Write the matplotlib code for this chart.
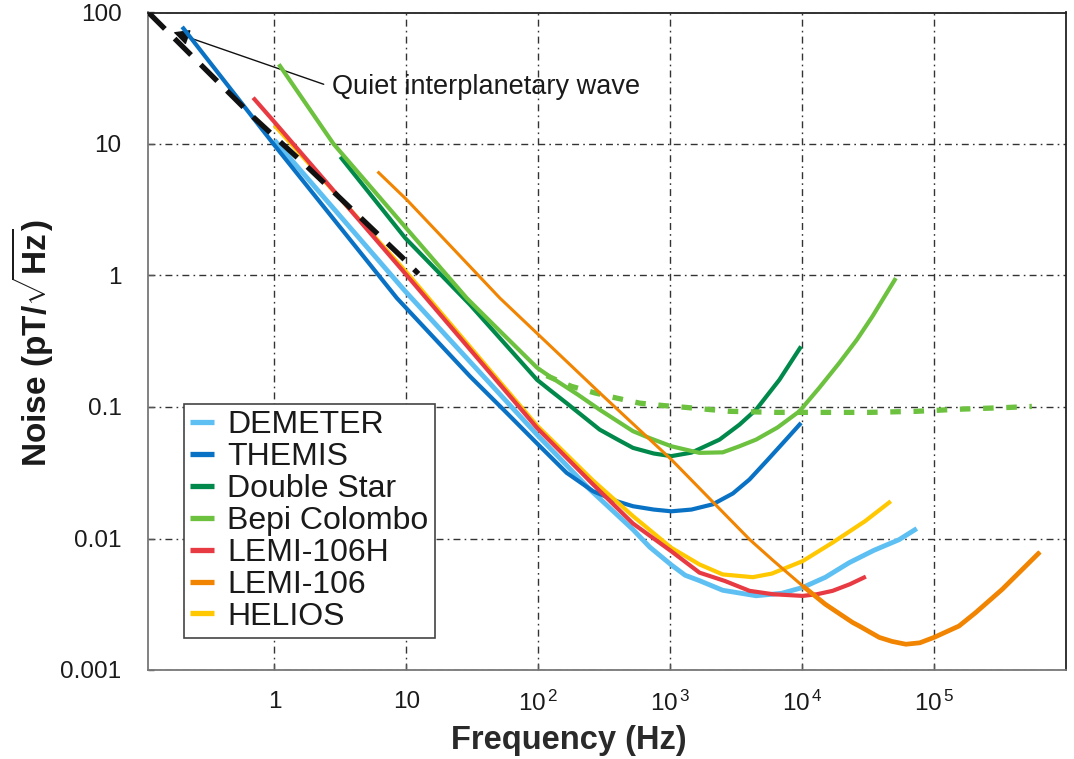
import matplotlib
matplotlib.use("Agg")
import matplotlib.pyplot as plt
from matplotlib.lines import Line2D

plt.rcParams['font.family'] = ['Liberation Sans', 'DejaVu Sans']
plt.rcParams['mathtext.fontset'] = 'custom'
plt.rcParams['mathtext.rm'] = 'Liberation Sans'
plt.rcParams['mathtext.it'] = 'Liberation Sans:italic'
plt.rcParams['mathtext.bf'] = 'Liberation Sans:bold'

# ---------------- data ----------------
demeter_f = [1, 9.8, 30.4, 97.9, 246, 522, 700, 1019, 1300, 1667, 2500, 4477, 7000, 10090,
             15000, 22760, 35000, 54330, 73960]
demeter_n = [10.7, 0.76, 0.221, 0.0616, 0.0236, 0.0117, 0.0086, 0.0063, 0.00525, 0.00478,
             0.00404, 0.00367, 0.00383, 0.00424, 0.00507, 0.00655, 0.00813, 0.0098, 0.0119]

themis_f = [0.2, 1, 8.48, 30.4, 55, 97.1, 164, 260, 400, 522, 750, 1019, 1450, 2104,
            2985, 3990, 5500, 7551, 9817]
themis_n = [77.8, 9.8, 0.673, 0.171, 0.0946, 0.0533, 0.0316, 0.0229, 0.0191, 0.0176,
            0.0166, 0.0161, 0.0166, 0.0182, 0.0220, 0.0281, 0.0398, 0.0565, 0.0757]

dstar_f = [3.16, 9.8, 30.4, 97.9, 122, 164, 292, 400, 522, 750, 1019, 1450, 2366, 3350,
           4477, 6725, 9817]
dstar_n = [8.0, 1.93, 0.60, 0.161, 0.135, 0.107, 0.0673, 0.0565, 0.0489, 0.0443, 0.0423,
           0.0450, 0.0565, 0.0734, 0.0955, 0.161, 0.289]

bepi_f = [1.08, 2.81, 9.8, 28.7, 50, 97.9, 122, 200, 292, 522, 700, 1019, 1667, 2500,
          3300, 4477, 6500, 9530, 13500, 19100, 26000, 34120, 51300]
bepi_n = [40.4, 10, 2.34, 0.673, 0.387, 0.199, 0.171, 0.124, 0.0954, 0.0655, 0.058,
          0.0503, 0.0448, 0.0452, 0.0500, 0.0565, 0.0698, 0.0927, 0.140, 0.216, 0.325,
          0.489, 0.955]

bepi_alt_f = [115.6, 178.6, 268, 391, 587, 881, 1285, 2813, 6350, 32200, 72740, 154600,
              348500, 551000]
bepi_alt_n = [0.173, 0.1435, 0.128, 0.117, 0.107, 0.1026, 0.0995, 0.0927, 0.0910, 0.0910,
              0.0927, 0.0962, 0.0990, 0.101]

lemi106h_f = [0.69, 1, 10.1, 97.9, 260, 522, 1019, 1667, 2600, 3990, 6000, 10090, 13000,
              17020, 23000, 30420]
lemi106h_n = [22.5, 14.7, 1.0, 0.0693, 0.0258, 0.0130, 0.0080, 0.0055, 0.00475, 0.0040,
              0.00377, 0.00366, 0.00377, 0.0040, 0.00449, 0.00513]

lemi106_f = [6.05, 10.1, 51.2, 97.1, 300, 1019, 3990, 6000, 10090, 15000, 24100, 27100,
             38400, 48000, 61090, 78000, 100000, 125000, 154600, 206500, 328800, 634000]
lemi106_n = [6.17, 3.76, 0.673, 0.366, 0.125, 0.0399, 0.00985, 0.00683, 0.00436, 0.00316,
             0.0023, 0.00216, 0.00177, 0.00165, 0.00157, 0.00161, 0.00177, 0.00196,
             0.00216, 0.00273, 0.00411, 0.00789]

helios_f = [1, 10.1, 97.9, 260, 522, 1019, 1667, 2500, 4227, 5900, 10090, 17000, 30000,
            46990]
helios_n = [13.9, 1.05, 0.0722, 0.0276, 0.0148, 0.0085, 0.00635, 0.00533, 0.00508,
            0.00541, 0.00673, 0.0093, 0.01355, 0.0192]

quiet_f = [0.111, 0.693, 1.77, 9.25, 12.35]
quiet_n = [100, 16.0, 6.73, 1.38, 1.03]

xticks = [1, 10, 100, 1000, 10000, 100000]
xtick_labels = ['1', '10', r'$10^{\,2}$', r'$10^{\,3}$', r'$10^{\,4}$', r'$10^{\,5}$']
yticks = [0.001, 0.01, 0.1, 1, 10, 100]
ytick_labels = ['0.001', '0.01', '0.1', '1', '10', '100']

# ---------------- figure ----------------
W, H = 1074, 759
fig = plt.figure(figsize=(W / 100, H / 100), dpi=100)
ax = fig.add_axes([148 / W, 1 - 670 / H, (1066 - 148) / W, (670 - 12.5) / H])
ax.set_xscale('log')
ax.set_yscale('log')
ax.set_xlim(10 ** -0.958, 1e6)
ax.set_ylim(1e-3, 100)

c_demeter = '#5EC0F2'
c_themis = '#0A72C4'
c_dstar = '#00894A'
c_bepi = '#6CC13E'
c_lemih = '#E83A42'
c_lemi = '#F18400'
c_helios = '#FFC800'

lw = 3.0
kw = dict(solid_capstyle='butt', solid_joinstyle='round')
ax.plot(demeter_f, demeter_n, color=c_demeter, lw=lw + 0.5, zorder=3, **kw)
ax.plot(themis_f, themis_n, color=c_themis, lw=lw, zorder=4, **kw)
ax.plot(dstar_f, dstar_n, color=c_dstar, lw=lw, zorder=4, **kw)
ax.plot(bepi_f, bepi_n, color=c_bepi, lw=lw, zorder=5, **kw)
ax.plot(bepi_alt_f, bepi_alt_n, color=c_bepi, lw=3.8, zorder=5, dashes=(2.0, 2.4),
        dash_capstyle='butt')
ax.plot(helios_f, helios_n, color=c_helios, lw=lw, zorder=5, **kw)
ax.plot(lemi106h_f, lemi106h_n, color=c_lemih, lw=lw, zorder=6, **kw)
ax.plot(lemi106_f, lemi106_n, color=c_lemi, lw=2.2, zorder=7, **kw)
ax.plot(lemi106_f[8:], lemi106_n[8:], color=c_lemi, lw=3.4, zorder=7, **kw)
ax.plot(quiet_f, quiet_n, color='#111111', lw=3.8, zorder=8, dashes=(4.4, 2.6),
        dash_capstyle='butt')

ax.annotate('Quiet interplanetary wave', xy=(0.172, 70.8), xytext=(2.72, 27.1),
            ha='left', va='center', fontsize=19.5, color='#1a1a1a',
            arrowprops=dict(arrowstyle='-|>', color='#111111', lw=1.0, relpos=(0, 0.5),
                            shrinkA=4, shrinkB=0, mutation_scale=24))

# grid and ticks
ax.set_xticks(xticks)
ax.set_xticklabels(xtick_labels)
ax.set_yticks(yticks)
ax.set_yticklabels(ytick_labels)
ax.minorticks_off()
ax.grid(True, which='major', color='#333333', lw=1.0, linestyle=(0, (5, 3, 1.2, 3)))
ax.set_axisbelow(True)
ax.tick_params(axis='both', direction='in', length=4, width=1, colors='#555555',
               labelcolor='#1a1a1a', labelsize=17.5)
ax.tick_params(axis='x', pad=15)
ax.tick_params(axis='y', pad=19)
for s in ['left', 'bottom']:
    ax.spines[s].set_color('#777777')
    ax.spines[s].set_linewidth(1.3)
for s in ['top', 'right']:
    ax.spines[s].set_color('#222222')
    ax.spines[s].set_linewidth(1.3)

# legend
order = ['DEMETER', 'THEMIS', 'Double Star', 'Bepi Colombo', 'LEMI-106H', 'LEMI-106', 'HELIOS']
cols = [c_demeter, c_themis, c_dstar, c_bepi, c_lemih, c_lemi, c_helios]
handles = [Line2D([], [], color=c, lw=3.8, solid_capstyle='butt') for c in cols]
leg = ax.legend(handles, order, loc='lower left', bbox_to_anchor=(0.039, 0.0486),
                borderaxespad=0, fontsize=23, frameon=True, fancybox=False,
                framealpha=1, edgecolor='#444444', handlelength=0.75,
                handletextpad=0.4, labelspacing=0.06, borderpad=0.2)
leg.get_frame().set_linewidth(1.2)
leg.set_zorder(20)
for t in leg.get_texts():
    t.set_color('#1a1a1a')

fig.text(569 / W, 1 - 740 / H, 'Frequency (Hz)', ha='center', va='center',
         fontsize=23.5, fontweight='bold', color='#2a2a2a')
fig.text(32 / W, 1 - 343 / H, r'Noise (pT/$\sqrt{\mathbf{Hz}}$)', ha='center', va='center',
         rotation=90, fontsize=24, fontweight='bold', color='#1a1a1a')

fig.savefig('out.png', dpi=100)
